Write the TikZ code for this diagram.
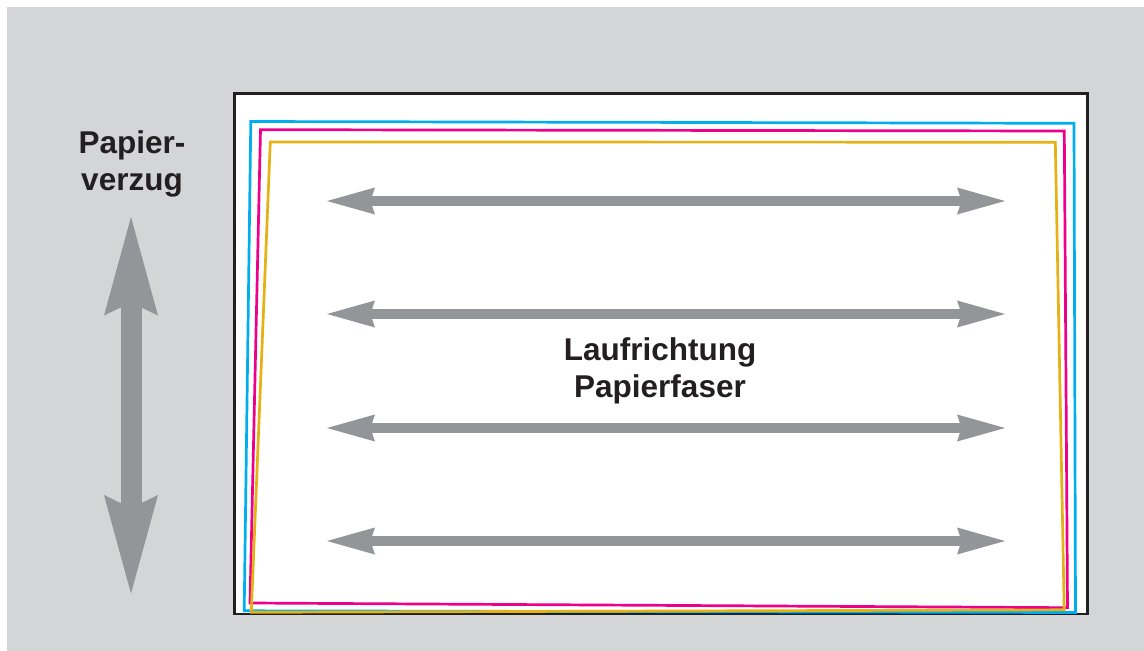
\documentclass[tikz,border=0pt]{standalone}
\usepackage{fontspec}
\setmainfont{Liberation Sans}
\usetikzlibrary{arrows.meta}
\definecolor{bggray}{RGB}{212,213,215}
\definecolor{arrowgray}{RGB}{147,149,152}
\definecolor{inkblack}{RGB}{35,31,32}
\definecolor{procyan}{RGB}{0,174,239}
\definecolor{promagenta}{RGB}{236,0,140}
\definecolor{proyellow}{RGB}{228,178,20}
\tikzset{
  lbl/.style={inner sep=0pt, anchor=base, text=inkblack,
    font=\fontsize{31.5}{37}\selectfont\bfseries},
  fiberarrow/.style={draw=arrowgray, line width=9.5pt,
    {Stealth[length=48pt,width=27pt,inset=4.6pt,line width=0pt]}-{Stealth[length=48pt,width=27pt,inset=4.6pt,line width=0pt]}},
  warparrow/.style={draw=arrowgray, line width=21pt,
    {Stealth[length=98.5pt,width=54pt,inset=13pt,line width=0pt]}-{Stealth[length=98.5pt,width=54pt,inset=13pt,line width=0pt]}},
  sheet/.style={line width=2.7pt, line join=miter}
}
\begin{document}
\begin{tikzpicture}[x=1pt,y=-1pt]
\useasboundingbox (0,0) rectangle (1144,651);
% background
\fill[white] (0,0) rectangle (1144,651);
\fill[bggray] (7,7) rectangle (1144,651);
% paper sheet
\draw[fill=white, draw=inkblack, line width=2.6pt] (234.7,93.3) rectangle (1087.3,613.8);
% printed colour separations, slightly shifted and distorted
\draw[sheet, procyan] (250.8,121.5) -- (1074,123.3) -- (1075.5,612.5) -- (244.2,610.8) -- cycle;
\draw[sheet, promagenta] (260.5,129.7) -- (1064.3,131) -- (1067.5,607.7) -- (250,603) -- cycle;
\draw[sheet, proyellow] (270.3,142) -- (1055.3,142.2) -- (1064.2,609.8) -- (251.3,612.3) -- cycle;
% fibre direction arrows
\foreach \i/\y in {1/201,2/314,3/428,4/541}{
  \coordinate (fl\i) at (327,\y);
  \coordinate (fr\i) at (1005,\y);
  \draw[fiberarrow] (fl\i) -- (fr\i);
}
% paper distortion arrow
\coordinate (wt) at (131,217);
\coordinate (wb) at (131,593.5);
\draw[warparrow] (wt) -- (wb);
% labels
\node[lbl] (pz1) at (132,153) {Papier-};
\node[lbl] (pz2) at (132,190) {verzug};
\node[lbl] (lr1) at (660,360) {Laufrichtung};
\node[lbl] (lr2) at (660,397) {Papierfaser};
\end{tikzpicture}
\end{document}
